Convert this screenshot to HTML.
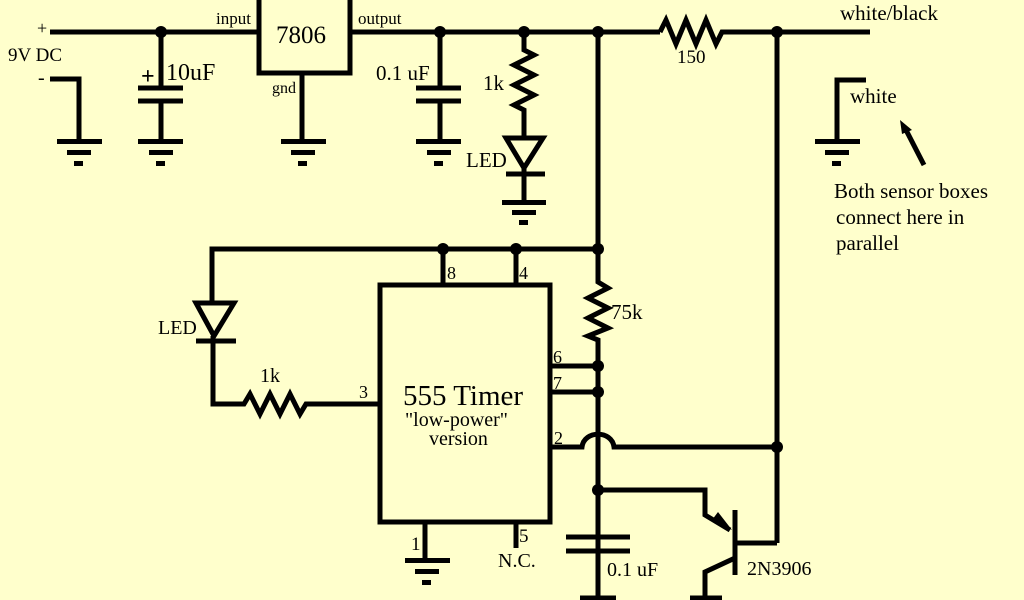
<!DOCTYPE html>
<html><head><style>html,body{margin:0;padding:0;background:#ffffcc;}svg{display:block}</style></head>
<body>
<svg width="1024" height="600" viewBox="0 0 1024 600" xmlns="http://www.w3.org/2000/svg">
<rect width="1024" height="600" fill="#ffffcc"/>
<g stroke="#000" stroke-width="5" fill="none" stroke-linejoin="miter">
<line x1="50" y1="32" x2="258" y2="32"/>
<line x1="350" y1="32" x2="660" y2="32"/>
<polyline points="660,32 666,20 676,44 686,20 696,44 706,20 716,44 722,32 870,32"/>
<rect x="259" y="-5" width="91" height="78"/>
<line x1="302" y1="73" x2="302" y2="141"/>
<polyline points="50,79 79,79 79,140"/>
<line x1="161" y1="32" x2="161" y2="88"/>
<line x1="138" y1="88" x2="183" y2="88"/>
<line x1="138" y1="101" x2="183" y2="101"/>
<line x1="161" y1="101" x2="161" y2="141"/>
<line x1="440" y1="32" x2="440" y2="88"/>
<line x1="416" y1="88" x2="461" y2="88"/>
<line x1="416" y1="101" x2="461" y2="101"/>
<line x1="440" y1="101" x2="440" y2="141"/>
<polyline points="524,32 524,50 534,55 514,65 534,75 514,85 534,95 514,105 524,110 524,138"/>
<polygon points="506,138 543,138 524,168"/>
<line x1="506" y1="174" x2="545" y2="174"/>
<line x1="524" y1="168" x2="524" y2="202"/>
<line x1="598" y1="32" x2="598" y2="278"/>
<polyline points="598,278 598,282 608,288 588,298 608,308 588,318 608,328 588,336 598,340 598,430"/>
<path d="M598,430 L598,600"/>
<line x1="777" y1="32" x2="777" y2="543"/>
<polyline points="212,303 212,249 598,249"/>
<line x1="443" y1="249" x2="443" y2="285"/>
<line x1="516" y1="249" x2="516" y2="285"/>
<rect x="380" y="285" width="170" height="237"/>
<polygon points="196,303 234,303 214,336"/>
<line x1="196" y1="341" x2="236" y2="341"/>
<polyline points="213,336 213,404 244,404 250,394 260,414 270,394 280,414 290,394 300,414 306,404 380,404"/>
<line x1="550" y1="366" x2="598" y2="366"/>
<line x1="550" y1="392" x2="598" y2="392"/>
<path d="M550,447 L582,447 C584,430 612,430 614,447 L777,447"/>
<polyline points="598,490 705,490 705,515 730,530"/>
<line x1="735" y1="510" x2="735" y2="575"/>
<polyline points="735,543 777,543"/>
<polyline points="735,558 705,572 705,598"/>
<line x1="690" y1="598" x2="722" y2="598"/>
<line x1="566" y1="537" x2="630" y2="537"/>
<line x1="566" y1="551" x2="630" y2="551"/>
<line x1="580" y1="598" x2="616" y2="598"/>
<line x1="425" y1="522" x2="425" y2="560"/>
<line x1="516" y1="522" x2="516" y2="548"/>
<polyline points="866,80 837,80 837,140"/>
<line x1="924" y1="165" x2="905" y2="128"/>
</g>
<polygon points="900,120 912,130 902,134" fill="#000"/>
<polygon points="732,530 712,520 718,512" fill="#000"/>
<g fill="#000">
<rect x="57" y="139" width="45" height="5"/><rect x="67" y="150" width="24" height="5"/><rect x="74" y="161" width="9" height="5"/>
<rect x="138" y="139" width="45" height="5"/><rect x="149" y="150" width="24" height="5"/><rect x="156" y="161" width="9" height="5"/>
<rect x="281" y="139" width="45" height="5"/><rect x="291" y="150" width="24" height="5"/><rect x="298" y="161" width="9" height="5"/>
<rect x="416" y="139" width="45" height="5"/><rect x="427" y="150" width="24" height="5"/><rect x="434" y="161" width="9" height="5"/>
<rect x="502" y="200" width="44" height="5"/><rect x="512" y="210" width="24" height="5"/><rect x="519" y="220" width="9" height="5"/>
<rect x="815" y="139" width="45" height="5"/><rect x="825" y="150" width="24" height="5"/><rect x="832" y="161" width="9" height="5"/>
<rect x="405" y="558" width="45" height="5"/><rect x="415" y="569" width="24" height="5"/><rect x="422" y="580" width="9" height="5"/>
<circle cx="161" cy="32" r="6"/><circle cx="440" cy="32" r="6"/><circle cx="524" cy="32" r="6"/>
<circle cx="598" cy="32" r="6"/><circle cx="777" cy="32" r="6"/>
<circle cx="443" cy="249" r="6"/><circle cx="516" cy="249" r="6"/><circle cx="598" cy="249" r="6"/>
<circle cx="598" cy="366" r="6"/><circle cx="598" cy="392" r="6"/><circle cx="598" cy="490" r="6"/>
<circle cx="777" cy="447" r="6"/>
</g>
<g font-family="Liberation Serif, serif" fill="#000">
<text x="37" y="34" font-size="18">+</text>
<text x="8" y="61" font-size="19">9V DC</text>
<text x="38" y="84" font-size="20">-</text>
<text x="216" y="24" font-size="17">input</text>
<text x="276" y="43" font-size="25">7806</text>
<text x="358" y="24" font-size="17">output</text>
<text x="272" y="93" font-size="16">gnd</text>
<text x="141" y="84" font-size="24" font-weight="bold">+</text>
<text x="166" y="80" font-size="24">10uF</text>
<text x="376" y="80" font-size="21">0.1 uF</text>
<text x="483" y="90" font-size="21">1k</text>
<text x="466" y="167" font-size="21">LED</text>
<text x="677" y="63" font-size="19">150</text>
<text x="840" y="20" font-size="21">white/black</text>
<text x="850" y="103" font-size="21">white</text>
<text x="834" y="198" font-size="21">Both sensor boxes</text>
<text x="836" y="224" font-size="21">connect here in</text>
<text x="836" y="250" font-size="21">parallel</text>
<text x="447" y="279" font-size="18">8</text>
<text x="519" y="279" font-size="18">4</text>
<text x="611" y="319" font-size="21">75k</text>
<text x="158" y="334" font-size="20">LED</text>
<text x="260" y="382" font-size="20">1k</text>
<text x="359" y="398" font-size="18">3</text>
<text x="553" y="363" font-size="18">6</text>
<text x="553" y="389" font-size="18">7</text>
<text x="554" y="444" font-size="18">2</text>
<text x="403" y="405" font-size="29">555 Timer</text>
<text x="405" y="426" font-size="20">"low-power"</text>
<text x="429" y="445" font-size="20">version</text>
<text x="411" y="550" font-size="19">1</text>
<text x="519" y="542" font-size="19">5</text>
<text x="498" y="567" font-size="20">N.C.</text>
<text x="607" y="576" font-size="20">0.1 uF</text>
<text x="747" y="575" font-size="20">2N3906</text>
</g>
</svg>
</body></html>
